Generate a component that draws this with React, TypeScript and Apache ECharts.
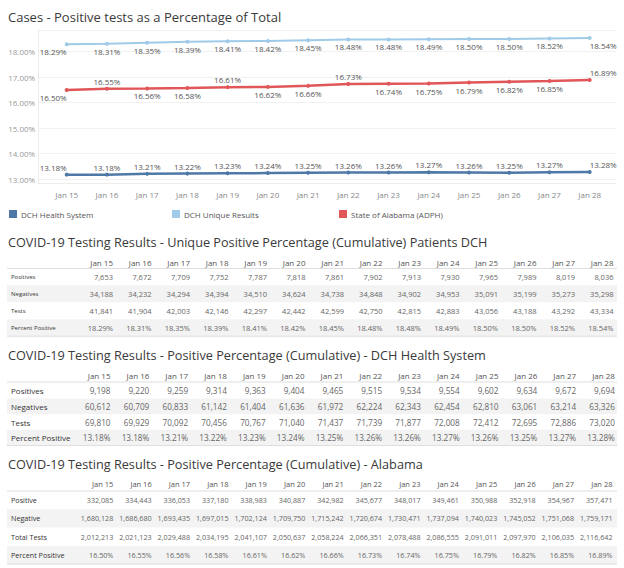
import React, { useEffect, useRef } from 'react';
import * as echarts from 'echarts';

const dates = ['Jan 15', 'Jan 16', 'Jan 17', 'Jan 18', 'Jan 19', 'Jan 20', 'Jan 21', 'Jan 22', 'Jan 23', 'Jan 24', 'Jan 25', 'Jan 26', 'Jan 27', 'Jan 28'];

const dchHealthPct = [13.18, 13.18, 13.21, 13.22, 13.23, 13.24, 13.25, 13.26, 13.26, 13.27, 13.26, 13.25, 13.27, 13.28];
const dchUniquePct = [18.29, 18.31, 18.35, 18.39, 18.41, 18.42, 18.45, 18.48, 18.48, 18.49, 18.5, 18.5, 18.52, 18.54];
const alabamaPct = [16.5, 16.55, 16.56, 16.58, 16.61, 16.62, 16.66, 16.73, 16.74, 16.75, 16.79, 16.82, 16.85, 16.89];

const uniquePositives = [7653, 7672, 7709, 7752, 7787, 7818, 7861, 7902, 7913, 7930, 7965, 7989, 8019, 8036];
const uniqueNegatives = [34188, 34232, 34294, 34394, 34510, 34624, 34738, 34848, 34902, 34953, 35091, 35199, 35273, 35298];
const uniqueTests = [41841, 41904, 42003, 42146, 42297, 42442, 42599, 42750, 42815, 42883, 43056, 43188, 43292, 43334];

const healthPositives = [9198, 9220, 9259, 9314, 9363, 9404, 9465, 9515, 9534, 9554, 9602, 9634, 9672, 9694];
const healthNegatives = [60612, 60709, 60833, 61142, 61404, 61636, 61972, 62224, 62343, 62454, 62810, 63061, 63214, 63326];
const healthTests = [69810, 69929, 70092, 70456, 70767, 71040, 71437, 71739, 71877, 72008, 72412, 72695, 72886, 73020];

const alabamaPositive = [332085, 334443, 336053, 337180, 338983, 340887, 342982, 345677, 348017, 349461, 350988, 352918, 354967, 357471];
const alabamaNegative = [1680128, 1686680, 1693435, 1697015, 1702124, 1709750, 1715242, 1720674, 1730471, 1737094, 1740023, 1745052, 1751068, 1759171];
const alabamaTotalTests = [2012213, 2021123, 2029488, 2034195, 2041107, 2050637, 2058224, 2066351, 2078488, 2086555, 2091011, 2097970, 2106035, 2116642];

const FONT = '"Open Sans", sans-serif';

const fmtInt = (v: number) => v.toLocaleString('en-US');
const fmtPct = (v: number) => v.toFixed(2) + '%';

function buildTable(cfg: any) {
  const els: any[] = [];
  els.push({
    type: 'text', x: 8, y: cfg.titleY, silent: true,
    style: { text: cfg.title, fill: '#3a3a3a', fontSize: cfg.titleFont, fontFamily: FONT, align: 'left', verticalAlign: 'middle' },
  });
  cfg.rows.forEach((row: any, r: number) => {
    const cy = cfg.rowY0 + r * cfg.rowH;
    if (r % 2 === 1) {
      els.push({ type: 'rect', silent: true, shape: { x: 7, y: cy - cfg.rowH / 2, width: 610, height: cfg.rowH }, style: { fill: '#f3f3f3' } });
    }
  });
  els.push({ type: 'line', silent: true, shape: { x1: 7, y1: cfg.headerLineY, x2: 617, y2: cfg.headerLineY }, style: { stroke: '#dedede', lineWidth: 1 } });
  const lastY = cfg.rowY0 + (cfg.rows.length - 0.5) * cfg.rowH;
  els.push({ type: 'line', silent: true, shape: { x1: 7, y1: lastY, x2: 617, y2: lastY }, style: { stroke: '#dedede', lineWidth: 1 } });
  dates.forEach((d, i) => {
    els.push({
      type: 'text', x: cfg.colRight0 + i * cfg.colStep, y: cfg.headerY, silent: true,
      style: { text: d, fill: '#555', fontSize: cfg.headerFont, fontFamily: FONT, align: 'right', verticalAlign: 'middle' },
    });
  });
  cfg.rows.forEach((row: any, r: number) => {
    const cy = cfg.rowY0 + r * cfg.rowH;
    els.push({
      type: 'text', x: 11, y: cy, silent: true,
      style: { text: row.label, fill: '#333', fontSize: cfg.labelFont, fontFamily: FONT, align: 'left', verticalAlign: 'middle' },
    });
    row.values.forEach((v: number, i: number) => {
      els.push({
        type: 'text', x: cfg.colRight0 + i * cfg.colStep, y: cy, silent: true,
        style: { text: row.fmt(v), fill: '#666', fontSize: cfg.valueFont, fontFamily: FONT, align: 'right', verticalAlign: 'middle' },
      });
    });
  });
  return els;
}

const tables = [
  {
    title: 'COVID-19 Testing Results - Unique Positive Percentage (Cumulative) Patients DCH',
    titleY: 242, titleFont: 12.7, headerY: 262, headerLineY: 268.5, rowY0: 276.7, rowH: 17,
    colRight0: 113, colStep: 38.5, labelFont: 6, valueFont: 7.5, headerFont: 8,
    rows: [
      { label: 'Positives', values: uniquePositives, fmt: fmtInt },
      { label: 'Negatives', values: uniqueNegatives, fmt: fmtInt },
      { label: 'Tests', values: uniqueTests, fmt: fmtInt },
      { label: 'Percent Positive', values: dchUniquePct, fmt: fmtPct },
    ],
  },
  {
    title: 'COVID-19 Testing Results - Positive Percentage (Cumulative) - DCH Health System',
    titleY: 355, titleFont: 12.7, headerY: 375, headerLineY: 382, rowY0: 390.6, rowH: 15.7,
    colRight0: 110.5, colStep: 38.8, labelFont: 8, valueFont: 8.2, headerFont: 8,
    rows: [
      { label: 'Positives', values: healthPositives, fmt: fmtInt },
      { label: 'Negatives', values: healthNegatives, fmt: fmtInt },
      { label: 'Tests', values: healthTests, fmt: fmtInt },
      { label: 'Percent Positive', values: dchHealthPct, fmt: fmtPct },
    ],
  },
  {
    title: 'COVID-19 Testing Results - Positive Percentage (Cumulative) - Alabama',
    titleY: 464, titleFont: 12.7, headerY: 484, headerLineY: 491, rowY0: 500, rowH: 18.3,
    colRight0: 113.3, colStep: 38.4, labelFont: 7.2, valueFont: 7.2, headerFont: 7.5,
    rows: [
      { label: 'Positive', values: alabamaPositive, fmt: fmtInt },
      { label: 'Negative', values: alabamaNegative, fmt: fmtInt },
      { label: 'Total Tests', values: alabamaTotalTests, fmt: fmtInt },
      { label: 'Percent Positive', values: alabamaPct, fmt: fmtPct },
    ],
  },
];

const alabamaLabelAbove = [1, 4, 7, 13];

function lineSeries(name: string, values: number[], color: string, width: number, above: (i: number) => boolean) {
  const last = values.length - 1;
  return {
    name, type: 'line', xAxisIndex: 0, yAxisIndex: 0, color,
    lineStyle: { width, color },
    itemStyle: { color },
    symbol: 'circle', symbolSize: 4,
    data: values.map((v, i) => ({
      value: v,
      label: {
        position: above(i) ? 'top' : 'bottom',
        align: i === 0 ? 'right' : i === last ? 'left' : 'center',
      },
    })),
    label: {
      show: true, distance: 1.5, fontSize: 8, fontFamily: FONT, color: '#555',
      formatter: (p: any) => fmtPct(p.value),
    },
  };
}

const Y_MIN = 12.84;
const Y_MAX = 18.85;

const option: any = {
  animation: false,
  backgroundColor: '#fff',
  grid: [
    { left: 66.7, right: 34.3, top: 30, bottom: 384.7 },
    { left: 38, right: 8, top: 30, bottom: 384.7 },
  ],
  xAxis: [
    {
      gridIndex: 0, type: 'category', data: dates, boundaryGap: false,
      axisLine: { show: false }, axisTick: { show: false },
      axisLabel: { interval: 0, margin: 7, fontSize: 8, fontFamily: FONT, color: '#888' },
    },
    {
      gridIndex: 1, type: 'category', data: dates, boundaryGap: false,
      axisLine: { show: true, lineStyle: { color: '#ececec' } }, axisTick: { show: false }, axisLabel: { show: false },
    },
  ],
  yAxis: [
    {
      gridIndex: 0, type: 'value', min: Y_MIN, max: Y_MAX,
      splitLine: { show: false }, axisLine: { show: false }, axisTick: { show: false },
      axisLabel: {
        margin: 31.5, fontSize: 8, fontFamily: FONT, color: '#999', showMinLabel: false, showMaxLabel: false,
        formatter: (v: number) => (Math.abs(v - Math.round(v)) < 1e-6 ? v.toFixed(2) + '%' : ''),
      },
    },
    {
      gridIndex: 1, type: 'value', min: Y_MIN, max: Y_MAX,
      splitLine: { show: true, lineStyle: { color: '#f1f1f1' } },
      axisLine: { show: true, lineStyle: { color: '#ececec' } }, axisTick: { show: false }, axisLabel: { show: false },
    },
  ],
  legend: [
    { data: ['DCH Health System'], left: 9, top: 210 },
    { data: ['DCH Unique Results'], left: 172, top: 210 },
    { data: ['State of Alabama (ADPH)'], left: 339, top: 210 },
  ].map((l) => ({
    ...l, padding: 0, icon: 'rect', itemWidth: 8, itemHeight: 8, itemGap: 4,
    textStyle: { fontSize: 8, fontFamily: FONT, color: '#555', padding: [0, 0, 0, -1] },
  })),
  series: [
    lineSeries('DCH Health System', dchHealthPct, '#4e79a7', 2.5, () => true),
    lineSeries('DCH Unique Results', dchUniquePct, '#a0cbe8', 2, () => false),
    lineSeries('State of Alabama (ADPH)', alabamaPct, '#e15759', 2.5, (i) => alabamaLabelAbove.includes(i)),
  ],
  graphic: [
    {
      type: 'text', x: 8, y: 17, silent: true,
      style: { text: 'Cases - Positive tests as a Percentage of Total', fill: '#3a3a3a', fontSize: 13, fontFamily: FONT, align: 'left', verticalAlign: 'middle' },
    },
    ...tables.flatMap(buildTable),
  ],
};

export default function App() {
  const ref = useRef<HTMLDivElement>(null);
  useEffect(() => {
    document.body.style.margin = '0';
    const chart = echarts.init(ref.current!, null, { renderer: 'svg' });
    chart.setOption(option);
    return () => chart.dispose();
  }, []);
  return <div ref={ref} style={{ width: 624, height: 568 }} />;
}
